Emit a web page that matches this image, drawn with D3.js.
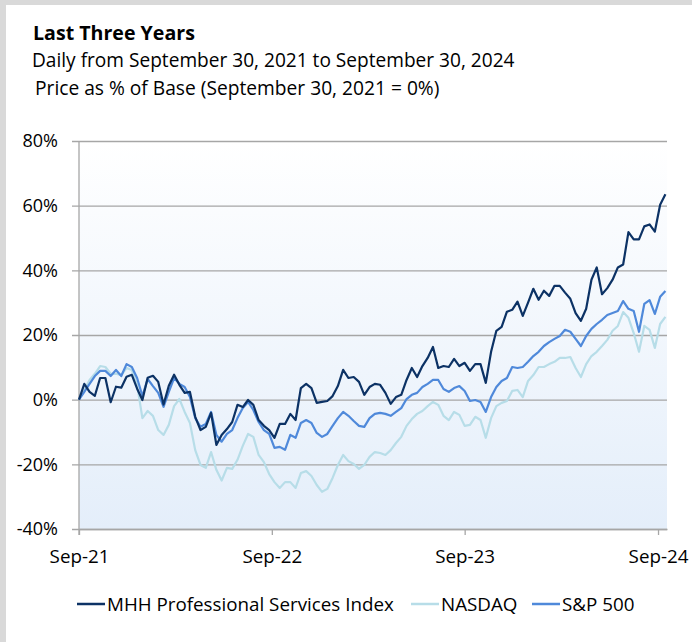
<!DOCTYPE html>
<html>
<head>
<meta charset="utf-8">
<script src="https://cdn.jsdelivr.net/npm/d3@7/dist/d3.min.js"></script>
<style>
  body { margin: 0; background: #d9d9d9; }
  svg { display: block; font-family: "Open Sans", Lato, sans-serif; }
</style>
</head>
<body>
<svg id="chart"></svg>
<script>
// base date and spacing of the readings (every 10 calendar days)
var startDate = "2021-09-30",
    stepDays = 10,
    endDate = "2024-10-17";

// price as % of base
var mhh = [0, 4.9, 2.4, 1.2, 6.7, 6.7, -0.8, 4.0, 3.7, 7.1,
  7.7, 3.4, -0.1, 6.8, 7.4, 5.5, -1.5, 4.3, 7.7, 4.6,
  2.1, 2.4, -5.3, -9.4, -8.4, -4.1, -14.0, -10.9, -9.1, -6.9,
  -1.6, -2.3, -0.1, -1.6, -6.3, -8.1, -9.4, -11.8, -7.5, -7.5,
  -4.4, -6.3, 3.6, 4.9, 3.6, -1.0, -0.7, -0.4, 1.1, 4.2,
  9.2, 6.7, 7.0, 5.5, 1.5, 3.9, 4.9, 4.6, 2.1, -1.3,
  0.8, 1.5, 6.1, 9.8, 7.0, 10.4, 12.9, 16.3, 9.8, 10.4,
  10.1, 12.6, 10.4, 11.4, 8.9, 11.0, 11.0, 5.2, 14.8, 21.3,
  22.5, 27.2, 27.8, 30.3, 25.9, 30.0, 34.3, 30.9, 33.7, 32.1,
  35.2, 35.2, 33.1, 31.2, 26.8, 24.4, 28.1, 37.1, 40.9, 32.6,
  34.5, 37.1, 40.9, 41.8, 51.8, 49.6, 49.6, 53.6, 54.2, 52.0,
  60.3, 63.5];

var nasdaq = [0, 3.0, 6.1, 8.0, 10.4, 10.1, 8.0, 8.0, 7.6, 9.8,
  9.2, 4.5, -5.7, -3.5, -5.0, -9.4, -10.9, -7.8, -2.0, 0.2,
  -3.8, -7.2, -15.6, -20.2, -21.1, -16.2, -21.7, -25.0, -21.1, -21.4,
  -18.6, -14.3, -10.6, -11.5, -17.1, -19.3, -23.0, -25.5, -27.3, -25.5,
  -25.5, -27.3, -22.7, -22.1, -23.6, -26.4, -28.5, -27.6, -24.2, -20.2,
  -17.1, -19.0, -19.9, -21.4, -20.2, -17.7, -16.2, -16.5, -17.1, -15.6,
  -13.4, -11.5, -8.1, -6.0, -4.4, -3.5, -2.0, -0.7, -1.6, -5.0,
  -6.3, -3.8, -4.7, -8.1, -7.8, -5.3, -6.3, -11.8, -5.7, -2.0,
  -1.0, -0.4, 2.7, 3.0, 0.8, 5.8, 7.6, 10.1, 10.1, 11.0,
  11.7, 12.9, 12.9, 13.2, 9.8, 7.0, 11.0, 13.5, 14.8, 16.6,
  18.5, 21.3, 22.8, 27.1, 25.3, 20.6, 14.8, 22.8, 21.6, 16.0,
  23.4, 25.6];

var sp500 = [0, 2.4, 4.9, 7.3, 8.9, 8.9, 7.3, 9.2, 7.3, 11.0,
  10.1, 6.7, 1.1, 6.4, 4.2, 2.1, -2.2, 2.4, 6.7, 4.9,
  3.9, 0.8, -5.7, -8.4, -7.5, -3.8, -10.9, -13.0, -10.6, -9.4,
  -5.7, -2.6, -0.7, -3.2, -6.9, -9.4, -10.6, -14.9, -14.6, -15.5,
  -10.9, -11.8, -7.2, -6.3, -7.2, -10.3, -11.5, -10.6, -8.1, -5.7,
  -3.8, -5.0, -6.6, -8.1, -8.4, -5.7, -4.4, -4.1, -4.4, -5.0,
  -3.8, -2.6, 0.2, 1.5, 2.1, 3.9, 4.9, 6.1, 6.1, 3.3,
  2.4, 3.6, 4.2, 2.7, -0.4, -0.1, -0.7, -3.8, 0.8, 3.9,
  5.8, 6.7, 10.1, 9.8, 10.1, 11.7, 13.5, 14.8, 16.6, 17.8,
  18.8, 19.7, 21.6, 21.0, 18.8, 16.6, 19.7, 21.9, 23.4, 24.7,
  26.2, 26.8, 27.4, 30.5, 28.1, 27.4, 21.0, 29.6, 30.8, 26.5,
  31.8, 33.6];

var seriesNames = ["MHH Professional Services Index", "NASDAQ", "S&P 500"];
var seriesColors = ["#0c3265", "#b7dde8", "#4f89da"];
var yTicks = [-40, -20, 0, 20, 40, 60, 80];
var xTickDates = ["2021-09-30", "2022-09-30", "2023-09-30", "2024-09-30"];

var width = 692, height = 642;
var plotLeft = 79, plotRight = 667, plotTop = 141, plotBottom = 529;

var parseDate = d3.timeParse("%Y-%m-%d");
var start = parseDate(startDate);

var svg = d3.select("#chart")
    .attr("width", width)
    .attr("height", height);

// white panel on the grey page
svg.append("rect")
    .attr("x", 6).attr("y", 5)
    .attr("width", width - 6).attr("height", height - 5)
    .attr("fill", "#ffffff");

// titles
svg.append("text").attr("x", 33).attr("y", 40)
    .attr("font-size", 19.6).attr("font-weight", "bold").attr("fill", "#000")
    .text("Last Three Years");
svg.append("text").attr("x", 32).attr("y", 67)
    .attr("font-size", 19.1).attr("fill", "#000")
    .text("Daily from September 30, 2021 to September 30, 2024");
svg.append("text").attr("x", 35).attr("y", 94.5)
    .attr("font-size", 19.2).attr("fill", "#000")
    .text("Price as % of Base (September 30, 2021 = 0%)");

var x = d3.scaleTime()
    .domain([start, parseDate(endDate)])
    .range([plotLeft, plotRight]);

var y = d3.scaleLinear()
    .domain([-40, 80])
    .range([plotBottom, plotTop]);

// plot background gradient
var grad = svg.append("defs").append("linearGradient")
    .attr("id", "bg").attr("x1", 0).attr("y1", 0).attr("x2", 0).attr("y2", 1);
grad.append("stop").attr("offset", "0%").attr("stop-color", "#ffffff");
grad.append("stop").attr("offset", "100%").attr("stop-color", "#e4eefa");

svg.append("rect")
    .attr("x", plotLeft).attr("y", plotTop)
    .attr("width", plotRight - plotLeft).attr("height", plotBottom - plotTop)
    .attr("fill", "url(#bg)");

// y axis with gridlines
var yAxis = svg.append("g")
    .attr("transform", "translate(" + plotLeft + ",0)")
    .call(d3.axisLeft(y)
        .tickValues(yTicks)
        .tickSize(-(plotRight - plotLeft))
        .tickSizeOuter(0)
        .tickPadding(21)
        .tickFormat(function(d) { return d + "%"; }));
yAxis.select(".domain").remove();
yAxis.selectAll(".tick line")
    .attr("x1", -7)
    .attr("stroke", "#a6a6a6")
    .attr("stroke-width", 1.3);
yAxis.selectAll(".tick text")
    .attr("font-size", 18)
    .attr("fill", "#000")
    .attr("font-family", "'Open Sans', sans-serif");

// vertical axis line
svg.append("line")
    .attr("x1", plotLeft).attr("x2", plotLeft)
    .attr("y1", plotTop).attr("y2", plotBottom + 6)
    .attr("stroke", "#a6a6a6").attr("stroke-width", 1.3);

// x axis
var xAxis = svg.append("g")
    .attr("transform", "translate(0," + plotBottom + ")")
    .call(d3.axisBottom(x)
        .tickValues(xTickDates.map(parseDate))
        .tickSize(6)
        .tickSizeOuter(0)
        .tickPadding(15)
        .tickFormat(d3.timeFormat("%b-%y")));
xAxis.select(".domain")
    .attr("stroke", "#a6a6a6").attr("stroke-width", 1.3);
xAxis.selectAll(".tick line")
    .attr("stroke", "#a6a6a6").attr("stroke-width", 1.3);
xAxis.selectAll(".tick text")
    .attr("font-size", 18.8)
    .attr("fill", "#000")
    .attr("font-family", "'Open Sans', sans-serif");

// lines
var allSeries = [mhh, nasdaq, sp500];
var drawOrder = [1, 2, 0];

var line = d3.line()
    .x(function(d, i) { return x(d3.timeDay.offset(start, i * stepDays)); })
    .y(function(d) { return y(d); });

drawOrder.forEach(function(k) {
    svg.append("path")
        .datum(allSeries[k])
        .attr("d", line)
        .attr("fill", "none")
        .attr("stroke", seriesColors[k])
        .attr("stroke-width", 2.2)
        .attr("stroke-linejoin", "round");
});

// legend
var legendX = [77, 411, 532];
var legend = svg.append("g");
seriesNames.forEach(function(name, k) {
    legend.append("line")
        .attr("x1", legendX[k]).attr("x2", legendX[k] + 28)
        .attr("y1", 604).attr("y2", 604)
        .attr("stroke", seriesColors[k]).attr("stroke-width", 2.5);
    legend.append("text")
        .attr("x", legendX[k] + 30).attr("y", 611)
        .attr("font-size", 18.8).attr("fill", "#000")
        .text(name);
});
</script>
</body>
</html>
